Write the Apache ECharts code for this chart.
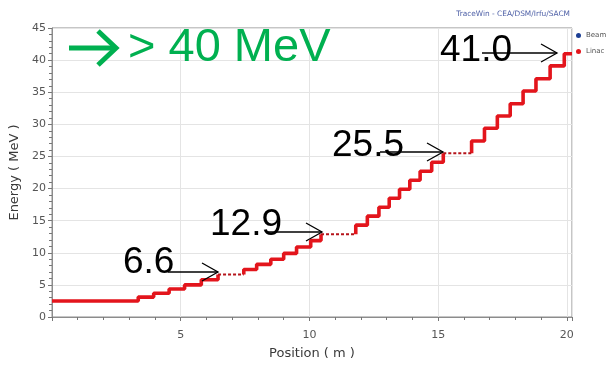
<!DOCTYPE html>
<html><head><meta charset="utf-8">
<script src="https://cdn.jsdelivr.net/npm/echarts@6/dist/echarts.min.js"></script>
<style>html,body{margin:0;padding:0;background:#fff}#c{width:611px;height:366px}</style>
</head><body><div id="c"></div>
<script>
// ---- data ----
const startPos = 0.0, startEnergy = 2.5, endPos = 20.2;
const sec1Pos = [3.35, 3.95, 4.55, 5.15, 5.8, 6.45];
const sec1E   = [3.1, 3.7, 4.35, 5.0, 5.8, 6.6];
const sec2Pos = [7.45, 7.95, 8.5, 9.0, 9.5, 10.05, 10.45];
const sec2E   = [7.4, 8.2, 9.0, 9.9, 10.9, 11.9, 12.9];
const sec3Pos = [11.8, 12.25, 12.7, 13.1, 13.5, 13.9, 14.3, 14.75, 15.2];
const sec3E   = [14.3, 15.7, 17.1, 18.5, 19.9, 21.3, 22.7, 24.1, 25.5];
const sec4Pos = [16.3, 16.8, 17.3, 17.8, 18.3, 18.8, 19.35, 19.9];
const sec4E   = [27.4, 29.4, 31.3, 33.2, 35.2, 37.1, 39.1, 41.0];
const yTicks = [0, 5, 10, 15, 20, 25, 30, 35, 40, 45];
const xTicks = [5, 10, 15, 20];
const annotLabels = ['6.6', '12.9', '25.5', '41.0'];
const headline = '> 40 MeV';
const credit = 'TraceWin - CEA/DSM/Irfu/SACM';

// ---- build series ----
const last = a => a[a.length - 1];
function section(x0, e0, pos, en, tail) {
  const d = [[x0, e0]];
  pos.forEach((p, i) => d.push([p, en[i]]));
  if (tail !== undefined) d.push([tail, last(en)]);
  return d;
}
const thick = [
  section(startPos, startEnergy, sec1Pos, sec1E),
  section(sec2Pos[0], last(sec1E), sec2Pos, sec2E),
  section(sec3Pos[0], last(sec2E), sec3Pos, sec3E),
  section(sec4Pos[0], last(sec3E), sec4Pos, sec4E, endPos)
];
const drifts = [
  [[last(sec1Pos), last(sec1E)], [sec2Pos[0], last(sec1E)]],
  [[last(sec2Pos), last(sec2E)], [sec3Pos[0], last(sec2E)]],
  [[last(sec3Pos), last(sec3E)], [sec4Pos[0], last(sec3E)]]
];
const RED = '#e3151c';
const series = [{ name: 'Beam', type: 'line', data: [], itemStyle: { color: '#1c3f94' } }];
thick.forEach(d => series.push({
  name: 'Linac', type: 'line', step: 'end', data: d, showSymbol: false,
  itemStyle: { color: RED }, lineStyle: { color: RED, width: 3.6 }, z: 3
}));
drifts.forEach(d => series.push({
  name: 'Linac', type: 'line', data: d, showSymbol: false,
  itemStyle: { color: RED }, lineStyle: { color: '#b5151b', width: 2, type: [3, 2] }, z: 3
}));

const chart = echarts.init(document.getElementById('c'), null, { renderer: 'canvas' });
const axisFont = 'DejaVu Sans';
const txt = (text, x, y, size, color, extra) => Object.assign({
  type: 'text', z: 20,
  style: { text, x, y, font: size + 'px "Liberation Sans", Arial, sans-serif', fill: color, verticalAlign: 'middle', align: 'left' }
}, extra || {});
const arrow = (x0, x1, y) => [
  { type: 'polyline', z: 20, shape: { points: [[x0, y], [x1, y]] }, style: { stroke: '#000', lineWidth: 1.3, fill: null } },
  { type: 'polyline', z: 20, shape: { points: [[x1 - 16, y - 9], [x1, y], [x1 - 16, y + 9]] }, style: { stroke: '#000', lineWidth: 1.3, fill: null } }
];
const graphics = [
  { type: 'text', z: 20, style: { text: credit, x: 570, y: 14, align: 'right', verticalAlign: 'middle', font: '7.4px "DejaVu Sans"', fill: '#4d5fa6' } },
  { type: 'polyline', z: 20, shape: { points: [[69, 48], [115, 48]] }, style: { stroke: '#00b050', lineWidth: 5, fill: null } },
  { type: 'polyline', z: 20, shape: { points: [[98, 31], [116, 48], [98, 65]] }, style: { stroke: '#00b050', lineWidth: 5, fill: null, lineJoin: 'miter' } },
  txt(headline, 128, 48, 47, '#00b050'),
  txt(annotLabels[3], 440, 51, 37, '#000'),
  ...arrow(482, 557, 53),
  txt(annotLabels[2], 332, 146, 37, '#000'),
  ...arrow(380, 443, 152),
  txt(annotLabels[1], 210, 225, 37, '#000'),
  ...arrow(268, 322, 232),
  txt(annotLabels[0], 123, 263, 37, '#000'),
  ...arrow(168, 218, 272)
];

chart.setOption({
  animation: false,
  backgroundColor: '#fff',
  grid: { left: 52, right: 39, top: 28, bottom: 49, show: true, borderColor: '#8c8c8c', borderWidth: 1, backgroundColor: 'transparent' },
  legend: {
    orient: 'vertical', left: 571, top: 27, itemWidth: 5, itemHeight: 5, itemGap: 9, icon: 'circle',
    textStyle: { fontSize: 7, color: '#555', fontFamily: axisFont }, data: ['Beam', 'Linac']
  },
  xAxis: {
    type: 'value', min: 0, max: endPos, interval: 5,
    name: 'Position ( m )', nameLocation: 'middle', nameGap: 30,
    nameTextStyle: { fontSize: 13, color: '#3a3a3a', fontFamily: axisFont },
    axisLine: { lineStyle: { color: '#8c8c8c' } },
    axisTick: { show: true, length: 4, lineStyle: { color: '#777' } },
    minorTick: { show: true, splitNumber: 5, length: 3, lineStyle: { color: '#777' } },
    axisLabel: { fontSize: 11, color: '#555', fontFamily: axisFont, margin: 13, formatter: v => xTicks.includes(v) ? String(v) : '' },
    splitLine: { show: true, lineStyle: { color: '#e4e4e4' } }
  },
  yAxis: {
    type: 'value', min: yTicks[0], max: last(yTicks), interval: 5,
    name: 'Energy ( MeV )', nameLocation: 'middle', nameGap: 23,
    nameTextStyle: { fontSize: 13, color: '#3a3a3a', fontFamily: axisFont },
    axisLine: { show: true, lineStyle: { color: '#8c8c8c' } },
    axisTick: { show: true, length: 4, lineStyle: { color: '#777' } },
    minorTick: { show: true, splitNumber: 5, length: 3, lineStyle: { color: '#777' } },
    axisLabel: { fontSize: 11, color: '#555', fontFamily: axisFont, margin: 6 },
    splitLine: { show: true, lineStyle: { color: '#e4e4e4' } }
  },
  series,
  graphic: graphics
});
</script></body></html>
